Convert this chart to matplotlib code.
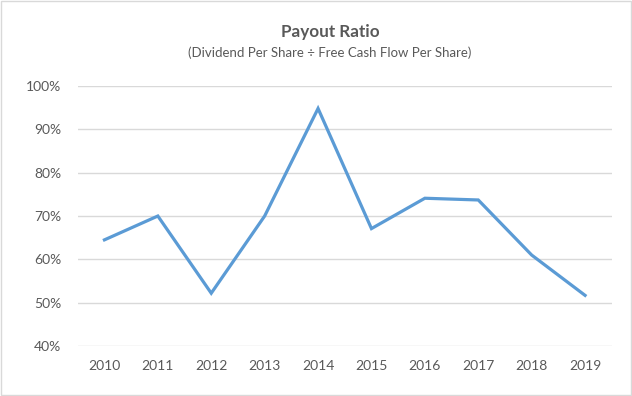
import matplotlib.pyplot as plt
from matplotlib.patches import Rectangle
from matplotlib.ticker import FuncFormatter

# Data
years = ['2010', '2011', '2012', '2013', '2014', '2015', '2016', '2017', '2018', '2019']
payout_ratio = [64.5, 70.0, 52.2, 70.0, 94.8, 67.1, 74.1, 73.7, 61.0, 51.7]

plt.rcParams['font.family'] = ['Lato', 'DejaVu Sans']

fig = plt.figure(figsize=(6.32, 3.96), dpi=100)
ax = fig.add_axes([0.123, 0.126, 0.845, 0.657])

x = range(len(years))
ax.plot(x, payout_ratio, color='#5B9BD5', linewidth=2.3, solid_joinstyle='miter')

ax.set_xlim(-0.5, len(years) - 0.5)
ax.set_ylim(40, 100)
ax.set_yticks([40, 50, 60, 70, 80, 90, 100])
ax.yaxis.set_major_formatter(FuncFormatter(lambda v, p: f'{v:.0f}%'))
ax.set_xticks(list(x))
ax.set_xticklabels(years)

ax.grid(axis='y', color='#D9D9D9', linewidth=1)
ax.set_axisbelow(True)
for s in ax.spines.values():
    s.set_visible(False)
ax.tick_params(length=0, colors='#595959', labelsize=10)
ax.tick_params(axis='y', pad=12)
ax.tick_params(axis='x', pad=10)

# titles sit a bit right of the figure centre, as in the original
fig.text(0.522, 0.918, 'Payout Ratio', ha='center', va='center',
         fontsize=12.3, fontweight='bold', color='#595959')
fig.text(0.522, 0.866, '(Dividend Per Share \u00f7 Free Cash Flow Per Share)',
         ha='center', va='center', fontsize=9.5, color='#595959')

# light frame around the chart
fig.patches.append(Rectangle((0.001, 0.002), 0.997, 0.995, transform=fig.transFigure,
                             fill=False, edgecolor='#D9D9D9', linewidth=1))

fig.savefig('out.png', dpi=100)
